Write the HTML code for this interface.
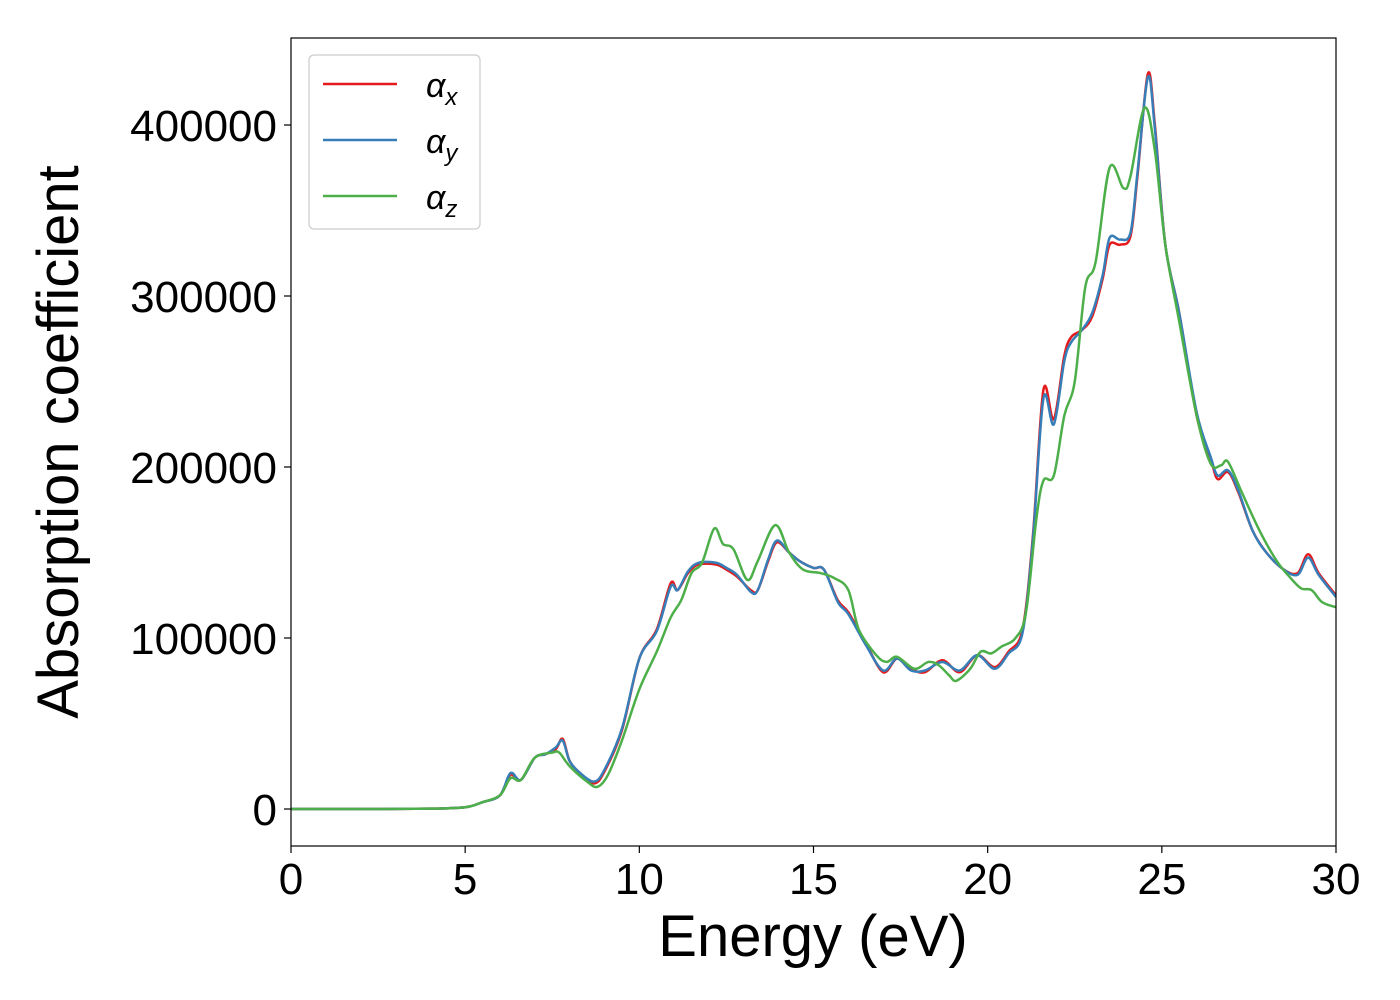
<!DOCTYPE html>
<html><head><meta charset="utf-8"><style>
body{margin:0;background:#fff}
svg{display:block;font-family:"Liberation Sans","DejaVu Sans",sans-serif}
</style></head><body>
<svg id="chart" width="1400" height="1000" viewBox="0 0 1400 1000" xmlns="http://www.w3.org/2000/svg">
<rect x="0" y="0" width="1400" height="1000" fill="#fff"/>
<g id="series"></g>
<rect x="291" y="38" width="1045" height="808" fill="none" stroke="#000" stroke-width="1.2"/>
<g id="xticks"></g><g id="yticks"></g>
<text x="813" y="956" font-size="58" text-anchor="middle">Energy (eV)</text>
<text transform="translate(78,442) rotate(-90)" font-size="58" text-anchor="middle">Absorption coefficient</text>
<g>
<rect x="309" y="55" width="171" height="174" rx="5" fill="#fff" stroke="#ccc" stroke-width="1.2"/>
<g><line x1="323" y1="84" x2="397" y2="84" stroke="#e41a1c" stroke-width="2.5"/><text x="426" y="97" font-size="34" font-style="italic">α<tspan font-size="24" dy="8">x</tspan></text></g>
<g><line x1="323" y1="140" x2="397" y2="140" stroke="#377eb8" stroke-width="2.5"/><text x="426" y="153" font-size="34" font-style="italic">α<tspan font-size="24" dy="8">y</tspan></text></g>
<g><line x1="323" y1="196" x2="397" y2="196" stroke="#4daf4a" stroke-width="2.5"/><text x="426" y="209" font-size="34" font-style="italic">α<tspan font-size="24" dy="8">z</tspan></text></g>
</g>
</svg>
<script>
const xTicks=[0,5,10,15,20,25,30];
const yTicks=[0,100000,200000,300000,400000];
const eX=[0,2,4,5,5.5,6,6.3,6.6,7.0,7.3,7.6,7.8,8.0,8.3,8.7,9.0,9.5,10,10.5,10.9,11.1,11.4,11.7,12.2,12.5,12.8,13.2,13.4,13.7,13.95,14.3,14.6,15.0,15.3,15.7,16.0,16.5,17.0,17.4,17.8,18.2,18.7,19.2,19.7,20.2,20.6,21.0,21.3,21.6,21.9,22.2,22.4,22.7,23.0,23.3,23.5,23.8,24.1,24.3,24.6,24.8,25.1,25.5,26.0,26.4,26.6,26.9,27.2,27.6,28.0,28.5,28.9,29.2,29.5,30];
const alphaX=[0,0,200,1000,4000,8000,20000,17000,30000,32000,35000,41000,28000,21000,15000,22000,46000,88000,105000,132000,128000,138000,143000,143000,140000,136000,128000,128000,145000,156000,150000,145000,141000,140000,122000,115000,97000,80000,88000,82000,80000,87000,80000,90000,83000,92000,105000,160000,245000,228000,265000,276000,280000,288000,310000,330000,330000,335000,370000,430000,400000,330000,290000,230000,205000,193000,197000,185000,163000,150000,140000,138000,149000,138000,125000];
const alphaY=[0,0,200,1000,4000,8000,21000,17000,30000,32000,36000,40000,28000,21000,16000,23000,47000,88000,104000,130000,128000,139000,144000,144000,141000,137000,127000,128000,146000,157000,150000,145000,141000,140000,121000,114000,96000,81000,88000,81000,81000,86000,81000,90000,82000,91000,103000,158000,240000,225000,262000,273000,280000,290000,312000,334000,333000,337000,372000,428000,398000,330000,290000,232000,206000,195000,198000,186000,163000,150000,140000,137000,147000,137000,124000];
const eZ=[0,2,4,5,5.5,6,6.3,6.6,7.0,7.5,7.7,8.0,8.5,8.8,9.1,9.5,10,10.5,10.9,11.2,11.5,11.8,12.15,12.4,12.7,13.1,13.4,13.9,14.3,14.7,15.2,15.6,16.0,16.3,16.8,17.1,17.4,17.9,18.3,18.6,18.9,19.1,19.5,19.8,20.1,20.4,20.8,21.1,21.4,21.6,21.9,22.2,22.5,22.8,23.1,23.5,23.9,24.1,24.5,24.8,25.1,25.5,26.0,26.4,26.7,26.9,27.3,27.8,28.3,28.7,29.0,29.3,29.6,30];
const alphaZ=[0,0,200,1000,4000,8000,18000,17000,30000,33000,33000,25000,16000,13000,20000,40000,70000,92000,112000,122000,138000,144000,164000,155000,152000,134000,145000,166000,150000,140000,138000,135000,128000,105000,90000,86000,89000,82000,86000,84000,78000,75000,82000,92000,91000,95000,100000,115000,170000,192000,195000,230000,250000,305000,320000,375000,363000,370000,410000,385000,330000,285000,230000,202000,201000,203000,185000,163000,145000,135000,129000,128000,121000,118000];
const X0=291,X1=1336,YTOP=38,YBOT=846,YMIN=-21637,YMAX=450877;
const sx=v=>X0+(v-0)/(30-0)*(X1-X0);
const sy=v=>YBOT-(v-YMIN)/(YMAX-YMIN)*(YBOT-YTOP);
const NS="http://www.w3.org/2000/svg";
function pathD(xs,ys){const p=xs.map((x,i)=>[sx(x),sy(ys[i])]);let d="M"+p[0][0]+","+p[0][1];
for(let i=0;i<p.length-1;i++){const p0=p[i-1]||p[i],p1=p[i],p2=p[i+1],p3=p[i+2]||p2;
const c1=[p1[0]+(p2[0]-p0[0])/6,p1[1]+(p2[1]-p0[1])/6],c2=[p2[0]-(p3[0]-p1[0])/6,p2[1]-(p3[1]-p1[1])/6];
d+=` C${c1[0]},${c1[1]} ${c2[0]},${c2[1]} ${p2[0]},${p2[1]}`;}return d;}
const g=document.getElementById("series");
g.setAttribute("clip-path","url(#clip)");
const defs=document.createElementNS(NS,"defs");defs.innerHTML='<clipPath id="clip"><rect x="291" y="38" width="1045" height="808"/></clipPath>';
document.getElementById("chart").prepend(defs);
[[eX,alphaX,"#e41a1c","line-alpha-x"],[eX,alphaY,"#377eb8","line-alpha-y"],[eZ,alphaZ,"#4daf4a","line-alpha-z"]].forEach(s=>{
const el=document.createElementNS(NS,"path");el.setAttribute("d",pathD(s[0],s[1]));el.setAttribute("fill","none");el.setAttribute("stroke",s[2]);el.setAttribute("stroke-width","2.5");


g.appendChild(el);});
const xt=document.getElementById("xticks");
xTicks.forEach(v=>{const t=document.createElementNS(NS,"g");


t.innerHTML=`<line x1="${sx(v)}" y1="846" x2="${sx(v)}" y2="853" stroke="#000" stroke-width="1.2"/><text x="${sx(v)}" y="894" font-size="44" text-anchor="middle">${v}</text>`;xt.appendChild(t);});
const yt=document.getElementById("yticks");
yTicks.forEach(v=>{const t=document.createElementNS(NS,"g");


t.innerHTML=`<line x1="284" y1="${sy(v)}" x2="291" y2="${sy(v)}" stroke="#000" stroke-width="1.2"/><text x="277" y="${sy(v)+16}" font-size="44" text-anchor="end">${v}</text>`;yt.appendChild(t);});
</script>
</body></html>
